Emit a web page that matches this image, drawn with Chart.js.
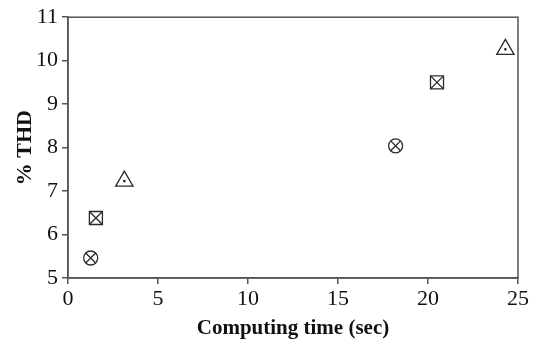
<!DOCTYPE html>
<html>
<head>
<meta charset="utf-8">
<script src="https://cdn.jsdelivr.net/npm/chart.js@4/dist/chart.umd.min.js"></script>
<style>
    html, body { margin: 0; padding: 0; background: #fff; }
    #wrap { width: 538px; height: 345px; position: relative; }
</style>
</head>
<body>
<div id="wrap"><canvas id="myChart"></canvas></div>
<script>
// Data
const circleTime = [1.26, 18.2];
const circleThd = [5.46, 8.04];
const squareTime = [1.55, 20.5];
const squareThd = [6.38, 9.5];
const triangleTime = [3.13, 24.3];
const triangleThd = [7.23, 10.26];

const xTicks = [0, 5, 10, 15, 20, 25];
const yTicks = [5, 6, 7, 8, 9, 10, 11];

const markColor = '#2a2a2a';
const axisColor = '#555';
const textColor = '#111';

function toPoints(xs, ys) {
    return xs.map((x, i) => ({ x: x, y: ys[i] }));
}

function markerSet(xs, ys, style, radius, fill) {
    return {
        data: toPoints(xs, ys),
        pointStyle: style,
        pointRadius: radius,
        pointHoverRadius: radius,
        pointBackgroundColor: fill || 'rgba(255,255,255,0)',
        pointBorderColor: markColor,
        pointBorderWidth: 1.3,
        showLine: false
    };
}

// draw the box round the plot area
const boxPlugin = {
    id: 'box',
    afterDraw(chart) {
        const { ctx, chartArea } = chart;
        ctx.save();
        ctx.strokeStyle = axisColor;
        ctx.lineWidth = 1.5;
        ctx.strokeRect(chartArea.left, chartArea.top, chartArea.right - chartArea.left, chartArea.bottom - chartArea.top);
        ctx.restore();
    }
};

const ctx = document.getElementById('myChart').getContext('2d');
const myChart = new Chart(ctx, {
    type: 'scatter',
    data: {
        datasets: [
            markerSet(circleTime, circleThd, 'circle', 7),
            markerSet(circleTime, circleThd, 'crossRot', 7),
            markerSet(squareTime, squareThd, 'rect', 9.2),
            markerSet(squareTime, squareThd, 'crossRot', 9.2),
            markerSet(triangleTime, triangleThd, 'triangle', 10),
            markerSet(triangleTime, triangleThd, 'circle', 0.7, markColor)
        ]
    },
    options: {
        responsive: true,
        maintainAspectRatio: false,
        animation: false,
        layout: { padding: { top: 16, right: 20, bottom: 4, left: 0 } },
        plugins: {
            legend: { display: false },
            tooltip: { enabled: false }
        },
        scales: {
            x: {
                type: 'linear',
                min: 0,
                max: 25,
                afterBuildTicks: scale => { scale.ticks = xTicks.map(v => ({ value: v })); },
                afterFit: scale => { scale.height = 63; },
                border: { display: true, color: axisColor, width: 1.5 },
                grid: { drawOnChartArea: false, drawTicks: true, tickLength: 6, color: axisColor, lineWidth: 1.5 },
                ticks: {
                    color: textColor,
                    padding: 2,
                    maxRotation: 0,
                    font: { family: 'Liberation Serif', size: 22 }
                },
                title: {
                    display: true,
                    text: 'Computing time (sec)',
                    color: textColor,
                    padding: { top: 2, bottom: 0 },
                    font: { family: 'Liberation Serif', size: 21, weight: 'bold' }
                }
            },
            y: {
                type: 'linear',
                min: 5,
                max: 11,
                afterBuildTicks: scale => { scale.ticks = yTicks.map(v => ({ value: v })); },
                afterFit: scale => { scale.width = 68; },
                border: { display: true, color: axisColor, width: 1.5 },
                grid: { drawOnChartArea: false, drawTicks: true, tickLength: 6, color: axisColor, lineWidth: 1.5 },
                ticks: {
                    color: textColor,
                    padding: 4,
                    font: { family: 'Liberation Serif', size: 22 }
                },
                title: {
                    display: true,
                    text: '% THD',
                    color: textColor,
                    padding: { top: 12, bottom: 0 },
                    font: { family: 'Liberation Serif', size: 22, weight: 'bold' }
                }
            }
        }
    },
    plugins: [boxPlugin]
});
</script>
</body>
</html>
